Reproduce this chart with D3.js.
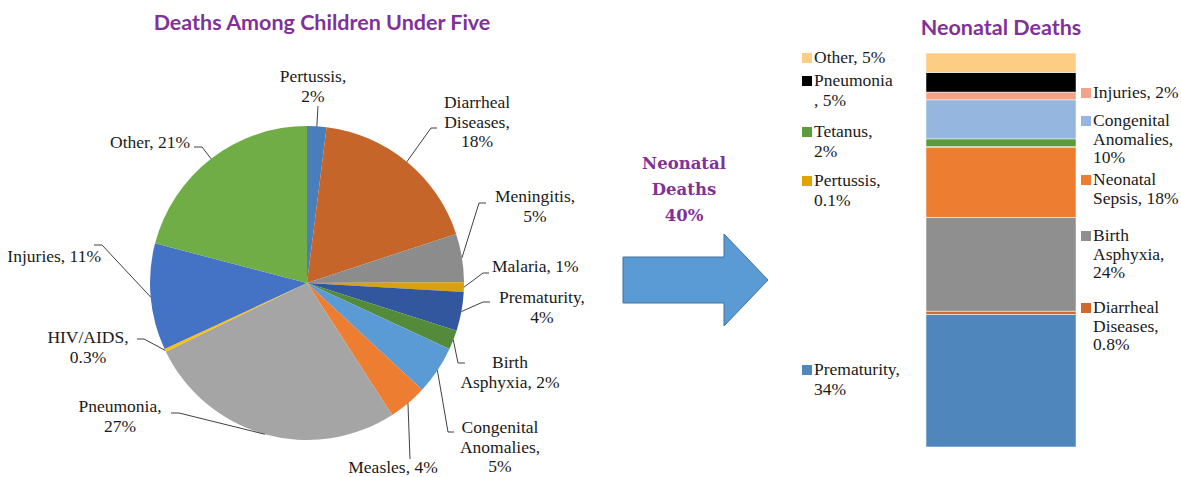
<!DOCTYPE html>
<html>
<head>
<meta charset="utf-8">
<script src="https://cdn.jsdelivr.net/npm/d3@7"></script>
<style>
body{margin:0;background:#fff;}
svg{display:block;}
.lbl{font-family:"Liberation Serif",serif;font-size:17.5px;fill:#1a1a1a;}
.ttl{font-family:Lato,sans-serif;font-weight:700;font-size:21.5px;fill:#7f3297;}
.ttl2{font-family:"DejaVu Serif",serif;font-weight:700;font-size:16.5px;fill:#7f3297;}
.leader{fill:none;stroke:#404040;stroke-width:1;}
</style>
</head>
<body>
<svg id="myGraph" width="1181" height="477"></svg>
<script>
//5세 미만 사망원인 (12시 방향부터 시계방향)
var pieCategories = ["Pertussis","Diarrheal Diseases","Meningitis","Malaria","Prematurity","Birth Asphyxia",
                     "Congenital Anomalies","Measles","Pneumonia","HIV/AIDS","Injuries","Other"];
var pieValues = [2, 18, 5, 1, 4, 2, 5, 4, 27, 0.3, 11, 21];
var pieColors = ["#4a7ebb","#c5652a","#8c8c8c","#d9a00f","#33579f","#548b3b",
                 "#5b9bd5","#ed7d31","#a5a5a5","#ffc000","#4472c4","#70ad47"];

//신생아 사망원인 (아래에서 위로 쌓음)
var barCategories = ["Prematurity","Diarrheal Diseases","Birth Asphyxia","Neonatal Sepsis","Pertussis",
                     "Tetanus","Congenital Anomalies","Injuries","Pneumonia","Other"];
var barValues = [34, 0.8, 24, 18, 0.1, 2, 10, 2, 5, 5];
var barColors = ["#4f87bd","#d0692b","#8f8f8f","#ed7d31","#e0a600",
                 "#5b9b3c","#95b6df","#f2a48a","#000000","#fecd84"];

var titles = ["Deaths Among Children Under Five", "Neonatal Deaths"];
var neonatalShare = 40;

//라벨 배치 (x, 첫줄 y, 정렬, 줄바꿈 위치, 지시선 꺾임점)
var pieLabelLayout = {
  "Pertussis":            {x:313, y:82,  a:"middle", br:[10],    pts:[[318,106]]},
  "Diarrheal Diseases":   {x:477, y:108, a:"middle", br:[9,19],  pts:[[431,128],[437,128]]},
  "Meningitis":           {x:535, y:202, a:"middle", br:[11],    pts:[[479,203],[486,203]]},
  "Malaria":              {x:492, y:272, a:"start",  br:[],      pts:[[483,273],[489,273]]},
  "Prematurity":          {x:542, y:303, a:"middle", br:[12],    pts:[[483,302],[490,302]]},
  "Birth Asphyxia":       {x:510, y:368, a:"middle", br:[5],     pts:[[458,363],[465,363]]},
  "Congenital Anomalies": {x:500, y:433, a:"middle", br:[10,21], pts:[[448,432],[454,432]]},
  "Measles":              {x:393, y:473, a:"middle", br:[],      pts:[[410,459]]},
  "Pneumonia":            {x:120, y:412, a:"middle", br:[10],    pts:[[179,413],[171,413]]},
  "HIV/AIDS":             {x:88,  y:343, a:"middle", br:[9],     pts:[[144,339],[137,339]]},
  "Injuries":             {x:101, y:262, a:"end",    br:[],      pts:[[102,245],[94,245]]},
  "Other":                {x:190, y:148, a:"end",    br:[],      pts:[[202,147],[194,147]]}
};
var legendLayout = {
  "Other":                {side:"L", y:63,  br:[]},
  "Pneumonia":            {side:"L", y:86,  br:[9]},
  "Tetanus":              {side:"L", y:137, br:[8]},
  "Pertussis":            {side:"L", y:186, br:[10]},
  "Prematurity":          {side:"L", y:375, br:[12]},
  "Injuries":             {side:"R", y:98,  br:[]},
  "Congenital Anomalies": {side:"R", y:126, br:[10,21]},
  "Neonatal Sepsis":      {side:"R", y:185, br:[8]},
  "Birth Asphyxia":       {side:"R", y:241, br:[5,15]},
  "Diarrheal Diseases":   {side:"R", y:313, br:[9,19]}
};

var svg = d3.select("#myGraph");

//문자열을 위치에서 잘라 여러 줄로
function splitLines(s, br){
  var out = [], prev = 0;
  br.forEach(function(b){ out.push(s.slice(prev, b).trim()); prev = b; });
  out.push(s.slice(prev).trim());
  return out;
}
function multiText(g, lines, x, y, lh, anchor){
  var t = g.append("text").attr("class","lbl").attr("text-anchor", anchor||"start");
  lines.forEach(function(l, i){
    t.append("tspan").attr("x", x).attr("y", y + i*lh).text(l);
  });
  return t;
}

//===== 원 그래프 =====
var cx = 307, cy = 283, r = 157;
var pie = d3.pie().sort(null);
var arc = d3.arc().innerRadius(0).outerRadius(r);
var edgeArc = d3.arc().innerRadius(r).outerRadius(r);
var pieData = pie(pieValues);

var pieG = svg.append("g").attr("transform", "translate("+cx+","+cy+")");
pieG.selectAll("path")
    .data(pieData)
    .enter()
    .append("path")
    .attr("d", arc)
    .style("fill", function(d, i){ return pieColors[i]; });

svg.append("text").attr("class","ttl").attr("x", 322).attr("y", 30)
   .attr("text-anchor","middle").text(titles[0]);

//지시선 + 라벨
var lblG = svg.append("g");
pieData.forEach(function(d, i){
  var name = pieCategories[i];
  var lay = pieLabelLayout[name];
  var e = edgeArc.centroid(d);
  var pts = [[cx + e[0], cy + e[1]]].concat(lay.pts);
  lblG.append("path").attr("class","leader").attr("d", d3.line()(pts));
  var s = name + ", " + pieValues[i] + "%";
  multiText(lblG, splitLines(s, lay.br), lay.x, lay.y, 19.5, lay.a);
});

//===== 화살표 =====
var arrow = {x0:623, x1:724, tip:768, cy:280, shaft:23, head:46};
svg.append("path")
   .attr("d", d3.line()([
     [arrow.x0, arrow.cy-arrow.shaft],[arrow.x1, arrow.cy-arrow.shaft],[arrow.x1, arrow.cy-arrow.head],
     [arrow.tip, arrow.cy],[arrow.x1, arrow.cy+arrow.head],[arrow.x1, arrow.cy+arrow.shaft],
     [arrow.x0, arrow.cy+arrow.shaft]]) + "Z")
   .attr("fill","#5b9bd5").attr("stroke","#41719c").attr("stroke-width",1);
var at = svg.append("text").attr("class","ttl2").attr("text-anchor","middle");
["Neonatal","Deaths", neonatalShare + "%"].forEach(function(l, i){
  at.append("tspan").attr("x", 684).attr("y", 169 + i*26).text(l);
});

//===== 누적 막대 =====
var total = d3.sum(barValues);
var yScale = d3.scaleLinear().domain([0, total]).range([447, 53]);
var xScale = d3.scaleBand().domain(["Neonatal"]).range([926, 1076]).padding(0);
var stack = d3.stack().keys(barCategories);
var row = {};
barCategories.forEach(function(c, i){ row[c] = barValues[i]; });
var series = stack([row]);

svg.append("g").selectAll("rect")
   .data(series)
   .enter()
   .append("rect")
   .attr("x", xScale("Neonatal"))
   .attr("width", xScale.bandwidth())
   .attr("y", function(s){ return yScale(s[0][1]); })
   .attr("height", function(s){ return yScale(s[0][0]) - yScale(s[0][1]); })
   .attr("fill", function(s, i){ return barColors[i]; })
   .attr("stroke", "#fff").attr("stroke-width", 0.5);

svg.append("text").attr("class","ttl").attr("x", 1001).attr("y", 35)
   .attr("text-anchor","middle").text(titles[1]);

//범례
var legG = svg.append("g");
barCategories.forEach(function(c, i){
  var lay = legendLayout[c];
  var sx = lay.side == "L" ? 802 : 1081;
  legG.append("rect").attr("x", sx).attr("y", lay.y - 10).attr("width", 10).attr("height", 10)
      .attr("fill", barColors[i]);
  var s = c + ", " + barValues[i] + "%";
  multiText(legG, splitLines(s, lay.br), sx + 12, lay.y, lay.side == "L" ? 20 : 18.5, "start");
});
</script>
</body>
</html>
